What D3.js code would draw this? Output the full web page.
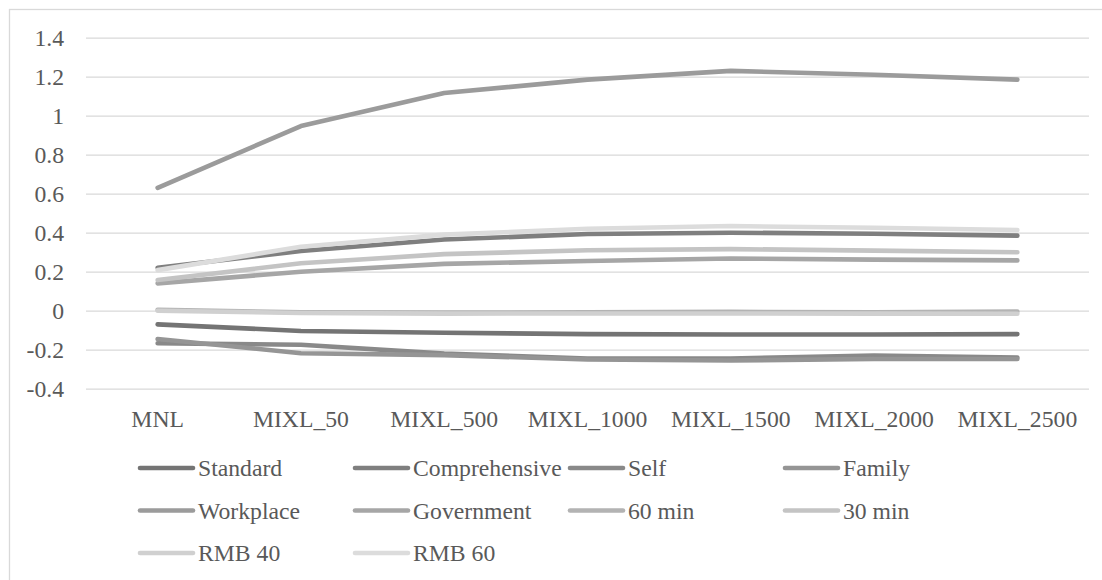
<!DOCTYPE html>
<html>
<head>
<meta charset="utf-8">
<script src="https://cdn.jsdelivr.net/npm/d3@7"></script>
</head>
<body style="margin:0">
<script>
  var categories = ["MNL", "MIXL_50", "MIXL_500", "MIXL_1000", "MIXL_1500", "MIXL_2000", "MIXL_2500"];
  var seriesNames = ["Standard", "Comprehensive", "Self", "Family", "Workplace", "Government", "60 min", "30 min", "RMB 40", "RMB 60"];
  var seriesColors = ["#747474", "#7f7f7f", "#898989", "#959595", "#9b9b9b", "#a6a6a6", "#b3b3b3", "#c4c4c4", "#d0d0d0", "#dcdcdc"];

  var standard      = [-0.07, -0.104, -0.113, -0.120, -0.122, -0.122, -0.120];
  var comprehensive = [0.220, 0.306, 0.365, 0.393, 0.400, 0.395, 0.385];
  var self          = [-0.167, -0.175, -0.220, -0.245, -0.245, -0.230, -0.240];
  var family        = [-0.145, -0.218, -0.228, -0.250, -0.255, -0.248, -0.248];
  var workplace     = [0.630, 0.947, 1.116, 1.185, 1.230, 1.210, 1.185];
  var government    = [0.140, 0.200, 0.240, 0.255, 0.268, 0.262, 0.258];
  var min60         = [0.005, -0.008, -0.010, -0.008, -0.006, -0.008, -0.004];
  var min30         = [0.157, 0.243, 0.290, 0.310, 0.316, 0.308, 0.300];
  var rmb40         = [0.000, -0.012, -0.015, -0.014, -0.014, -0.015, -0.016];
  var rmb60         = [0.208, 0.328, 0.390, 0.420, 0.434, 0.425, 0.414];

  var seriesValues = [standard, comprehensive, self, family, workplace, government, min60, min30, rmb40, rmb60];
  var yTicks = [-0.4, -0.2, 0, 0.2, 0.4, 0.6, 0.8, 1, 1.2, 1.4];

  var width = 1102, height = 580;
  var k = 0.79; // text drawn at 30px then scaled down

  var svg = d3.select('body').append('svg')
    .attr('width', width)
    .attr('height', height);

  // chart area border (right and bottom edges fall outside the picture)
  svg.append('rect')
    .attr('x', 9.5).attr('y', 9.5)
    .attr('width', 1200).attr('height', 700)
    .attr('fill', 'none')
    .attr('stroke', '#d9d9d9')
    .attr('stroke-width', 1.3);

  var x = d3.scaleBand().domain(categories).range([86, 1089]).paddingInner(0).paddingOuter(0);
  var y = d3.scaleLinear().domain([-0.4, 1.4]).range([388.7, 37.7]);

  // gridlines + y labels
  var yAxis = svg.append('g')
    .attr('transform', 'translate(86,0)')
    .call(d3.axisLeft(y).tickValues(yTicks).tickSize(-(1089 - 86)).tickPadding(22)
      .tickFormat(function(d) { return String(+d.toFixed(1)); }));
  yAxis.select('.domain').remove();
  yAxis.selectAll('.tick line').attr('stroke', '#d9d9d9').attr('stroke-width', 1.3);
  yAxis.selectAll('.tick text')
    .attr('x', -22 / k)
    .attr('transform', 'scale(' + k + ')')
    .attr('font-size', 30)
    .style('font-family', "'Liberation Serif'")
    .attr('fill', '#595959');

  // x labels
  var xAxis = svg.append('g')
    .attr('transform', 'translate(0,388.7)')
    .call(d3.axisBottom(x).tickSize(0).tickPadding(0));
  xAxis.select('.domain').remove();
  xAxis.selectAll('.tick text')
    .attr('y', 38 / k)
    .attr('dy', 0)
    .attr('transform', 'scale(' + k + ')')
    .attr('font-size', 30)
    .style('font-family', "'Liberation Serif'")
    .attr('fill', '#595959');

  var line = d3.line()
    .x(function(d, i) { return x(categories[i]) + x.bandwidth() / 2; })
    .y(function(d) { return y(d); });

  svg.selectAll('path.series')
    .data(seriesValues)
    .enter()
    .append('path')
      .attr('class', 'series')
      .attr('d', function(d) { return line(d); })
      .attr('fill', 'none')
      .attr('stroke', function(d, i) { return seriesColors[i]; })
      .attr('stroke-width', 4.6)
      .attr('stroke-linecap', 'round')
      .attr('stroke-linejoin', 'round');

  // legend
  var legend = svg.selectAll('g.legend')
    .data(seriesNames)
    .enter()
    .append('g')
      .attr('class', 'legend')
      .attr('transform', function(d, i) {
        return 'translate(' + (139 + (i % 4) * 215) + ',' + (468 + Math.floor(i / 4) * 42.5) + ')';
      });

  legend.append('line')
    .attr('x1', 1).attr('x2', 54)
    .attr('y1', 0).attr('y2', 0)
    .attr('stroke', function(d, i) { return seriesColors[i]; })
    .attr('stroke-width', 4.6)
    .attr('stroke-linecap', 'round');

  legend.append('text')
    .attr('x', 59 / k)
    .attr('y', 8 / k)
    .attr('transform', 'scale(' + k + ')')
    .attr('fill', '#595959')
    .attr('font-size', 30)
    .style('font-family', "'Liberation Serif'")
    .text(function(d) { return d; });
</script>
</body>
</html>
